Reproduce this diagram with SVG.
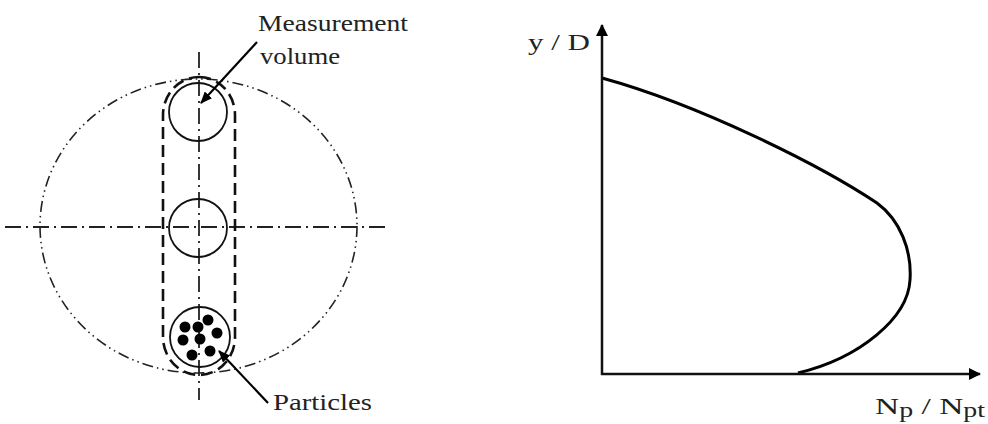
<svg xmlns="http://www.w3.org/2000/svg" width="988" height="424" viewBox="0 0 988 424">
  <style>
    .lbl { font-family: "Liberation Serif", "DejaVu Serif", serif; font-size: 24px; fill: #222; }
    .center { fill: none; stroke: #222; stroke-width: 1.8; stroke-dasharray: 16 5 2 5; }
    .outer { fill: none; stroke: #222; stroke-width: 1.6; stroke-dasharray: 11 4 1.5 4 1.5 4; }
    .mv { fill: none; stroke: #111; stroke-width: 1.8; }
    .stadium { fill: none; stroke: #111; stroke-width: 2.6; stroke-dasharray: 12 6; }
    .dot { fill: #000; }
    .axis { stroke: #111; stroke-width: 2.5; fill: none; }
    .curve { stroke: #000; stroke-width: 3; fill: none; }
    .lead { stroke: #000; stroke-width: 2.2; fill: none; }
  </style>
  <defs>
    <marker id="ah" viewBox="0 0 12 10" refX="11" refY="5" markerWidth="12" markerHeight="10" markerUnits="userSpaceOnUse" orient="auto">
      <path d="M0,0 L12,5 L0,10 z" fill="#000"/>
    </marker>
    <marker id="axh" viewBox="0 0 12 12" refX="11" refY="6" markerWidth="12" markerHeight="12" markerUnits="userSpaceOnUse" orient="auto">
      <path d="M0,0 L12,6 L0,12 z" fill="#000"/>
    </marker>
  </defs>
  <rect width="988" height="424" fill="#fff"/>

  <g id="pipe-section">
    <ellipse class="outer" cx="198.5" cy="226" rx="158.5" ry="147"/>
    <line class="center" x1="5" y1="227" x2="388" y2="227"/>
    <line class="center" x1="199" y1="52" x2="199" y2="400"/>
  </g>

  <g id="traverse-path">
    <rect class="stadium" x="163" y="77" width="72" height="298" rx="36" ry="38"/>
  </g>

  <g id="volume-top">
    <circle class="mv" cx="198" cy="112" r="29"/>
  </g>
  <g id="volume-middle">
    <circle class="mv" cx="198" cy="228" r="29"/>
  </g>
  <g id="volume-bottom">
    <circle class="mv" cx="200" cy="337" r="30"/>
    <circle class="dot" cx="185" cy="327" r="5.5"/>
    <circle class="dot" cx="198" cy="327" r="5.5"/>
    <circle class="dot" cx="208" cy="320" r="5.5"/>
    <circle class="dot" cx="217" cy="333" r="5.5"/>
    <circle class="dot" cx="183" cy="340" r="5.5"/>
    <circle class="dot" cx="200" cy="339" r="5.5"/>
    <circle class="dot" cx="192" cy="355" r="5.5"/>
    <circle class="dot" cx="210" cy="351" r="5.5"/>
  </g>

  <g id="label-measurement">
    <text class="lbl" x="258" y="31" textLength="150" lengthAdjust="spacingAndGlyphs">Measurement</text>
    <text class="lbl" x="260" y="64" textLength="80" lengthAdjust="spacingAndGlyphs">volume</text>
  </g>
  <g id="label-particles">
    <text class="lbl" x="273" y="410" textLength="99" lengthAdjust="spacingAndGlyphs">Particles</text>
  </g>

  <g id="chart">
    <text class="lbl" x="528" y="50" textLength="62" lengthAdjust="spacingAndGlyphs">y / D</text>
    <text class="lbl" x="875" y="414" font-size="28" textLength="110" lengthAdjust="spacingAndGlyphs">N<tspan font-size="20" dy="3">p</tspan><tspan dy="-3"> / N</tspan><tspan font-size="20" dy="3">pt</tspan></text>
    <path class="curve" d="M602,78 C700,105 820,165 877,203 C900,220 912,250 910,280 C908,318 860,358 798,373"/>
  </g>

  <g id="connectors">
    <line class="axis" x1="602" y1="375" x2="602" y2="25" marker-end="url(#axh)"/>
    <line class="axis" x1="601" y1="374" x2="980" y2="374" marker-end="url(#axh)"/>
    <line class="lead" x1="257" y1="42" x2="201" y2="103" marker-end="url(#ah)"/>
    <line class="lead" x1="268" y1="403" x2="219" y2="351" marker-end="url(#ah)"/>
  </g>
</svg>
